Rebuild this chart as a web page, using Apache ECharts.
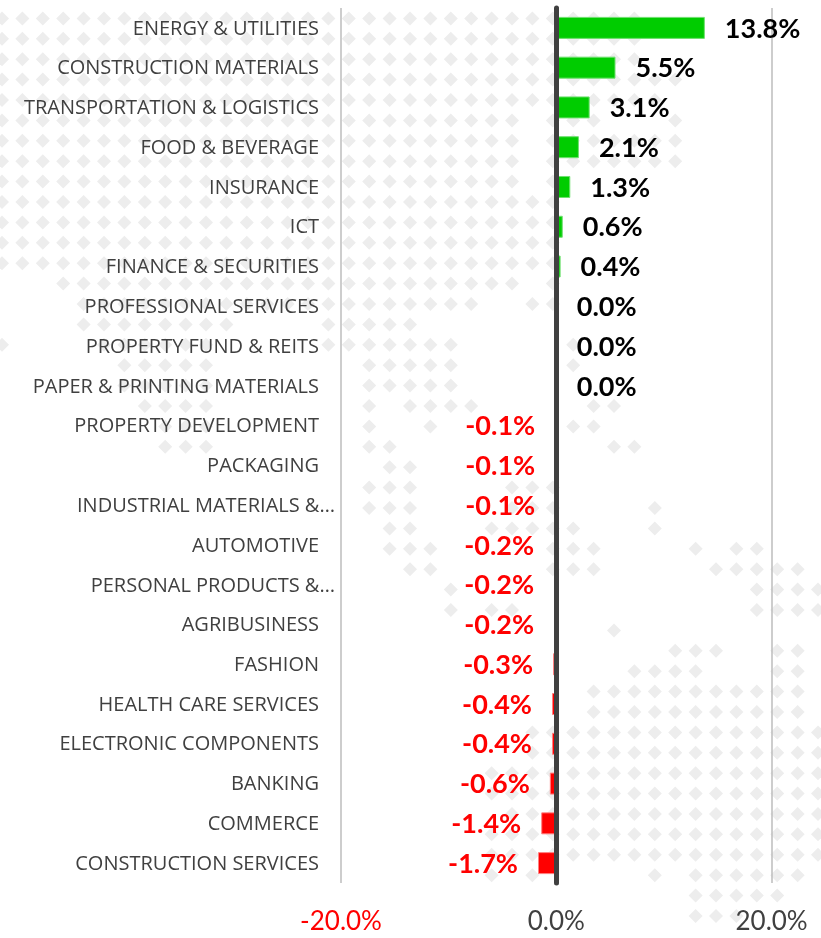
<!DOCTYPE html>
<html>
<head>
<meta charset="utf-8">
<style>html,body{margin:0;padding:0;background:#fff}#c{width:821px;height:938px}</style>
<script src="https://cdn.jsdelivr.net/npm/echarts@6/dist/echarts.min.js"></script>
</head>
<body>
<div id="c"></div>
<script>
const categories = ["ENERGY & UTILITIES","CONSTRUCTION MATERIALS","TRANSPORTATION & LOGISTICS","FOOD & BEVERAGE","INSURANCE","ICT","FINANCE & SECURITIES","PROFESSIONAL SERVICES","PROPERTY FUND & REITS","PAPER & PRINTING MATERIALS","PROPERTY DEVELOPMENT","PACKAGING","INDUSTRIAL MATERIALS &…","AUTOMOTIVE","PERSONAL PRODUCTS &…","AGRIBUSINESS","FASHION","HEALTH CARE SERVICES","ELECTRONIC COMPONENTS","BANKING","COMMERCE","CONSTRUCTION SERVICES"];
const values = [13.8,5.5,3.1,2.1,1.3,0.6,0.4,0.0,0.0,0.0,-0.1,-0.1,-0.1,-0.2,-0.2,-0.2,-0.3,-0.4,-0.4,-0.6,-1.4,-1.7];
// Watermark: for each row of the dot lattice, the runs of occupied columns
const dotRuns = [
 [[0,30]],[[0,31]],[[0,31]],[[0,31]],[[0,33]],[[0,32]],
 [[0,25],[27,29],[33,33]],[[0,25],[27,33]],[[0,25],[27,33]],[[0,25],[27,27]],
 [[0,27]],[[0,27]],[[0,27]],[[0,27]],
 [[3,25],[27,27]],[[4,23],[26,27]],[[4,11],[16,20]],
 [[0,0],[5,10],[16,22],[28,28]],[[6,10],[18,22],[28,28]],[[6,10],[18,22]],
 [[7,10],[18,18],[20,23],[29,30]],[[8,10],[18,18],[21,21],[28,29]],[[8,10],[18,19],[30,31]],
 [[19,20]],[[18,20],[25,27]],[[18,20],[25,27],[32,32]],[[19,20],[24,28],[32,32]],
 [[19,21],[27,29],[34,34],[36,37]],[[20,21],[27,29],[35,39]],[[22,22],[37,40]],
 [[22,22],[24,25],[37,40]],[[30,30]],[[33,35],[38,39]],[[31,34],[38,39]],
 [[29,39]],[[29,39]],[[26,40]],[[26,40]],[[24,40]],[[24,40]],[[25,40]],[[24,40]],[[24,40]],
 [[24,24],[26,26],[32,32],[34,39]],[[34,38]],[[34,36]]
];
const tickColors = {"-20":"#ff0000"};
const GREEN="#00cc00", RED="#ff0000", INK="#404040";

const dots=[];
dotRuns.forEach((runs,r)=>runs.forEach(([a,b])=>{for(let k=a;k<=b;k++)dots.push([k,r]);}));

const bars=values.map(v=>({
  value:v,
  itemStyle:{color:v<0?RED:GREEN,borderColor:v<0?"#ff8080":"#70e070",borderWidth:1},
  label:{position:v<0?"left":"right",color:v<0?RED:"#000000"}
}));

const chart=echarts.init(document.getElementById("c"),null,{renderer:"canvas"});
chart.setOption({
  animation:false,
  backgroundColor:"#ffffff",
  grid:[
    {left:341,top:8,width:430.6,height:875,outerBoundsMode:"none"},
    {left:0,top:0,right:0,bottom:0,outerBoundsMode:"none"}
  ],
  xAxis:[
    {type:"value",gridIndex:0,min:-20,max:20,interval:20,
     axisLine:{show:false},axisTick:{show:false},
     splitLine:{show:true,lineStyle:{color:"#bdbdbd",width:1.5}},
     axisLabel:{margin:26,fontFamily:"Lato",fontSize:26,
       color:v=>tickColors[String(v)]||INK,
       formatter:v=>v.toFixed(1)+"%"}},
    {type:"value",gridIndex:1,min:-0.098,max:40.147,show:false}
  ],
  yAxis:[
    {type:"category",gridIndex:0,inverse:true,data:categories,z:5,
     axisLine:{show:true,onZero:true,lineStyle:{color:"#404040",width:5}},
     axisTick:{show:false},splitLine:{show:false},
     axisLabel:{interval:0,margin:6,align:"right",fontFamily:"Open Sans",fontSize:20,color:INK,
       formatter:v=>v.endsWith("…")?"{e|"+v+"}":"{p|"+v+"}",
       rich:{
         p:{padding:[2,16,0,0],fontFamily:"Open Sans",fontSize:20,color:INK},
         e:{padding:[3,0,0,0],fontFamily:"Open Sans",fontSize:20,color:INK}
       }}},
    {type:"value",gridIndex:1,inverse:true,min:0.098,max:46.08,show:false}
  ],
  series:[
    {type:"scatter",xAxisIndex:1,yAxisIndex:1,z:-1,silent:true,data:dots,
     symbol:"diamond",symbolSize:14,itemStyle:{color:"#ededed",opacity:1}},
    {type:"bar",xAxisIndex:0,yAxisIndex:0,z:2,barWidth:22,data:bars,
     label:{show:true,distance:20,offset:[0,1],fontFamily:"Lato",fontWeight:"bold",fontSize:27,
       formatter:p=>p.value.toFixed(1)+"%"}}
  ]
});
</script>
</body>
</html>
